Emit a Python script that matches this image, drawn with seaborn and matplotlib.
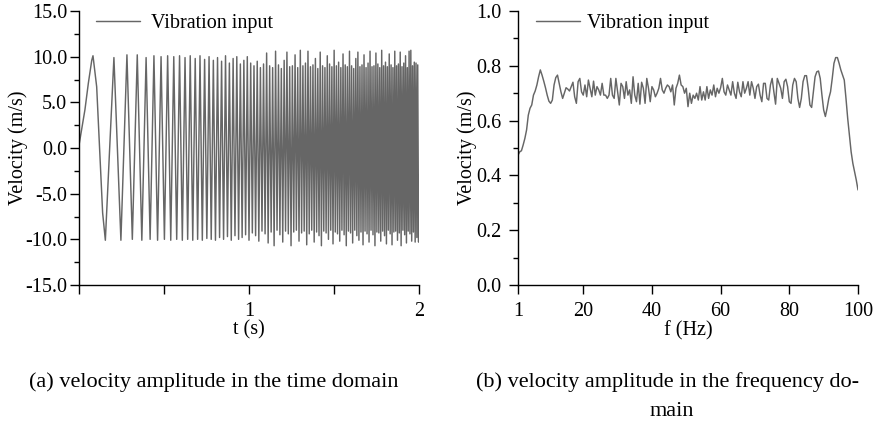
import numpy as np
import pandas as pd
import matplotlib
matplotlib.use("Agg")
import matplotlib.pyplot as plt
import seaborn as sns
from matplotlib.ticker import FixedLocator, MultipleLocator, FuncFormatter

# ---------------- data ----------------
# (a) time domain: onset shape of the first cycle, then the extrema of the sweep
onset_t = [0.0, 0.035, 0.055, 0.075, 0.104, 0.124, 0.139]
onset_v = [0.3, 4.2, 7.1, 9.6, 6.7, -1.3, -7.1]

peak_t = [0.0823, 0.2054, 0.2820, 0.3427, 0.3947, 0.4408, 0.4827, 0.5214, 0.5575, 0.5915,
          0.6237, 0.6543, 0.6836, 0.7118, 0.7389, 0.7650, 0.7903, 0.8149, 0.8387, 0.8619,
          0.8846, 0.9066, 0.9282, 0.9492, 0.9698, 0.9900, 1.0099, 1.0293, 1.0484, 1.0671,
          1.0855, 1.1037, 1.1215, 1.1390, 1.1563, 1.1734, 1.1902, 1.2068, 1.2231, 1.2393,
          1.2552, 1.2710, 1.2865, 1.3019, 1.3171, 1.3321, 1.3469, 1.3616, 1.3762, 1.3906,
          1.4048, 1.4189, 1.4329, 1.4467, 1.4605, 1.4740, 1.4875, 1.5008, 1.5141, 1.5272,
          1.5402, 1.5531, 1.5659, 1.5785, 1.5911, 1.6036, 1.6160, 1.6283, 1.6405, 1.6526,
          1.6647, 1.6766, 1.6885, 1.7003, 1.7120, 1.7236, 1.7351, 1.7466, 1.7580, 1.7693,
          1.7806, 1.7918, 1.8029, 1.8139, 1.8249, 1.8358, 1.8467, 1.8575, 1.8682, 1.8789,
          1.8895, 1.9000, 1.9105, 1.9209, 1.9313, 1.9417, 1.9519, 1.9621, 1.9723, 1.9824,
          1.9925]
peak_v = [10.1, 9.9, 10.2, 10.2, 9.9, 10.1, 10.0, 10.1, 10.0, 10.1,
          9.9, 10.1, 9.8, 10.1, 9.7, 10.0, 9.6, 9.9, 9.5, 10.1,
          9.3, 9.8, 10.0, 9.2, 9.6, 10.0, 9.3, 9.0, 9.5, 8.8,
          9.2, 10.4, 9.0, 8.8, 10.6, 9.1, 8.7, 9.6, 10.5, 8.9,
          9.0, 10.2, 8.8, 10.7, 9.0, 9.3, 10.6, 8.9, 9.1, 9.8,
          8.7, 10.5, 9.0, 8.8, 10.1, 9.2, 8.9, 10.7, 9.0, 9.4,
          8.8, 10.3, 9.1, 8.9, 10.6, 9.0, 8.7, 9.8, 10.5, 8.9,
          9.1, 10.2, 8.8, 9.3, 10.6, 8.9, 9.0, 10.4, 9.2, 8.8,
          10.7, 9.0, 9.4, 8.9, 10.3, 9.1, 8.8, 10.6, 9.0, 9.2,
          10.5, 8.9, 9.3, 10.1, 8.8, 10.6, 10.7, 9.0, 9.4, 9.3,
          9.1]
trough_t = [0.1550, 0.2465, 0.3137, 0.3696, 0.4184, 0.4622, 0.5024, 0.5397, 0.5747, 0.6078,
            0.6392, 0.6691, 0.6978, 0.7254, 0.7520, 0.7778, 0.8027, 0.8269, 0.8504, 0.8733,
            0.8957, 0.9175, 0.9388, 0.9596, 0.9800, 1.0000, 1.0196, 1.0388, 1.0578, 1.0764,
            1.0946, 1.1126, 1.1303, 1.1477, 1.1649, 1.1818, 1.1985, 1.2150, 1.2312, 1.2473,
            1.2631, 1.2787, 1.2942, 1.3095, 1.3246, 1.3395, 1.3543, 1.3689, 1.3834, 1.3977,
            1.4119, 1.4259, 1.4398, 1.4536, 1.4673, 1.4808, 1.4942, 1.5075, 1.5206, 1.5337,
            1.5466, 1.5595, 1.5722, 1.5848, 1.5974, 1.6098, 1.6222, 1.6344, 1.6466, 1.6587,
            1.6707, 1.6826, 1.6944, 1.7061, 1.7178, 1.7294, 1.7409, 1.7523, 1.7637, 1.7750,
            1.7862, 1.7973, 1.8084, 1.8194, 1.8304, 1.8413, 1.8521, 1.8628, 1.8735, 1.8842,
            1.8948, 1.9053, 1.9157, 1.9261, 1.9365, 1.9468, 1.9570, 1.9672, 1.9774, 1.9875,
            1.9975]
trough_v = [-10.1, -10.1, -10.0, -10.1, -10.0, -10.1, -10.0, -10.1, -10.0, -10.1,
            -10.0, -10.1, -10.0, -10.1, -9.9, -10.0, -10.1, -9.8, -10.0, -9.7,
            -10.1, -9.6, -10.0, -9.8, -9.5, -10.1, -9.3, -9.6, -10.2, -9.1,
            -9.4, -10.4, -9.2, -10.7, -9.0, -9.5, -10.3, -9.1, -9.4, -10.7,
            -9.2, -9.0, -10.2, -9.3, -9.1, -10.6, -9.4, -9.0, -10.3, -9.2,
            -9.6, -10.7, -9.1, -9.3, -10.0, -9.0, -10.5, -9.2, -9.4, -10.2,
            -9.0, -9.5, -10.7, -9.1, -9.3, -10.4, -9.0, -9.6, -10.1, -9.2,
            -10.6, -9.1, -9.4, -10.3, -9.0, -9.5, -10.7, -9.2, -9.3, -10.2,
            -9.1, -9.6, -10.5, -9.0, -9.4, -10.6, -9.2, -9.1, -10.1, -9.3,
            -10.7, -9.0, -9.5, -10.4, -9.1, -9.4, -10.2, -9.2, -10.3, -9.8,
            -10.3]
end_t = [2.0]
end_v = [-3.0]

# (b) frequency domain, one value every 0.5 Hz from 1 Hz to 100 Hz
spec_f_start, spec_f_stop, spec_f_step = 1.0, 100.0, 0.5
spec_v = [0.474, 0.486, 0.490, 0.511, 0.535, 0.566, 0.620, 0.645, 0.657, 0.693,
          0.708, 0.730, 0.760, 0.785, 0.766, 0.744, 0.720, 0.693, 0.671, 0.663,
          0.675, 0.730, 0.757, 0.766, 0.736, 0.705, 0.681, 0.700, 0.720, 0.715,
          0.708, 0.724, 0.740, 0.687, 0.663, 0.742, 0.754, 0.705, 0.693, 0.730,
          0.687, 0.748, 0.718, 0.687, 0.744, 0.693, 0.724, 0.712, 0.693, 0.736,
          0.693, 0.693, 0.681, 0.693, 0.754, 0.693, 0.681, 0.754, 0.705, 0.657,
          0.736, 0.724, 0.681, 0.742, 0.693, 0.712, 0.663,
          0.760, 0.693, 0.669, 0.736, 0.660, 0.740, 0.718, 0.663, 0.754, 0.718,
          0.669, 0.724, 0.712, 0.687, 0.700, 0.718, 0.754, 0.712, 0.700, 0.718,
          0.730, 0.724, 0.705, 0.730, 0.657, 0.718, 0.736, 0.766, 0.730, 0.724,
          0.700, 0.718, 0.651, 0.700, 0.663, 0.693, 0.681, 0.700, 0.675, 0.724,
          0.675, 0.705, 0.675, 0.724, 0.681, 0.712, 0.693, 0.730, 0.687, 0.718,
          0.700, 0.720, 0.754, 0.705, 0.693, 0.730, 0.712, 0.693, 0.742, 0.700,
          0.681, 0.740, 0.705, 0.687, 0.742, 0.700,
          0.718, 0.742, 0.693, 0.742, 0.718, 0.681, 0.724, 0.733, 0.693, 0.669,
          0.736, 0.736, 0.681, 0.675, 0.730, 0.754, 0.705, 0.660, 0.754, 0.736,
          0.718, 0.681, 0.742, 0.751, 0.724, 0.669, 0.663, 0.730, 0.754, 0.742,
          0.681, 0.648, 0.681, 0.742, 0.764, 0.764, 0.718, 0.657, 0.648, 0.705,
          0.760, 0.778, 0.781, 0.754, 0.693, 0.639, 0.615, 0.645, 0.681, 0.705,
          0.754, 0.809, 0.830, 0.830, 0.809, 0.785, 0.766, 0.748, 0.681, 0.608,
          0.547, 0.486, 0.444, 0.414, 0.383, 0.347]

legend_label = "Vibration input"
t_ticks = [0, 0.5, 1, 1.5, 2]
t_ticklabels = ["", "", "1", "", "2"]
f_ticks = [1, 20, 40, 60, 80, 100]
caption_a = "(a) velocity amplitude in the time domain"
caption_b1 = "(b) velocity amplitude in the frequency do-"
caption_b2 = "main"

# ---------------- build tables ----------------
time_df = pd.DataFrame({
    "t": onset_t + peak_t + trough_t + end_t,
    "v": onset_v + peak_v + trough_v + end_v,
}).sort_values("t").reset_index(drop=True)

spec_f = np.arange(spec_f_start, spec_f_stop + spec_f_step / 2, spec_f_step)[:len(spec_v)]
spec_df = pd.DataFrame({"f": spec_f, "v": spec_v[:len(spec_f)]})

# ---------------- style ----------------
sns.set_theme(style="ticks")
plt.rcParams["font.family"] = ["Liberation Serif", "DejaVu Serif"]
plt.rcParams["text.color"] = "black"
plt.rcParams["axes.labelcolor"] = "black"
plt.rcParams["xtick.color"] = "black"
plt.rcParams["ytick.color"] = "black"
plt.rcParams["axes.edgecolor"] = "black"

LINE = "#666666"
TICK_FS = 14.5
LABEL_FS = 14.5
CAP_FS = 16
W, H = 877, 426
fig = plt.figure(figsize=(W / 100, H / 100), dpi=100)
ax1 = fig.add_axes([79 / W, 1 - 285 / H, 340 / W, 274 / H])
ax2 = fig.add_axes([518 / W, 1 - 285 / H, 340 / W, 274 / H])

sns.lineplot(data=time_df, x="t", y="v", ax=ax1, color=LINE, linewidth=1.05,
             estimator=None, sort=False, label=legend_label)
sns.lineplot(data=spec_df, x="f", y="v", ax=ax2, color=LINE, linewidth=1.05,
             estimator=None, sort=False, label=legend_label)

for ax in (ax1, ax2):
    for s in ("top", "right"):
        ax.spines[s].set_visible(False)
    for s in ("left", "bottom"):
        ax.spines[s].set_linewidth(1.0)
        ax.spines[s].set_color("black")
    ax.tick_params(which="major", direction="out", length=6.5, width=1.0,
                   labelsize=TICK_FS, color="black")
    ax.tick_params(which="minor", direction="out", length=3.5, width=1.0, color="black")

# left axes
ax1.set_xlim(0, 2)
ax1.set_ylim(-15, 15)
ax1.xaxis.set_major_locator(FixedLocator(t_ticks))
ax1.set_xticklabels(t_ticklabels)
ax1.yaxis.set_major_locator(MultipleLocator(5))
ax1.yaxis.set_minor_locator(MultipleLocator(2.5))
ax1.yaxis.set_major_formatter(FuncFormatter(lambda v, p: f"{v:.1f}"))
ax1.tick_params(axis="y", which="major", pad=2)
ax1.tick_params(axis="x", which="major", pad=5.5)
ax1.set_xlabel("t (s)", fontsize=LABEL_FS)
ax1.set_ylabel("Velocity (m/s)", fontsize=LABEL_FS)
ax1.xaxis.set_label_coords(0.5, -0.13)
ax1.yaxis.set_label_coords(-0.18, 0.5)
ax1.yaxis.label.set_va("center")

# right axes
ax2.set_xlim(1, 100)
ax2.set_ylim(0, 1)
ax2.xaxis.set_major_locator(FixedLocator(f_ticks))
ax2.yaxis.set_major_locator(MultipleLocator(0.2))
ax2.yaxis.set_minor_locator(MultipleLocator(0.1))
ax2.yaxis.set_major_formatter(FuncFormatter(lambda v, p: f"{v:.1f}"))
ax2.tick_params(axis="y", which="major", pad=5.5)
ax2.tick_params(axis="x", which="major", pad=5.5)
ax2.set_xlabel("f (Hz)", fontsize=LABEL_FS)
ax2.set_ylabel("Velocity (m/s)", fontsize=LABEL_FS)
ax2.xaxis.set_label_coords(0.5, -0.13)
ax2.yaxis.set_label_coords(-0.15, 0.5)
ax2.yaxis.label.set_va("center")

# legends
for ax, x0, pad in ((ax1, 0.05, 0.55), (ax2, 0.053, 0.35)):
    ax.legend(loc="center left", bbox_to_anchor=(x0, 0.956), frameon=False,
              fontsize=LABEL_FS, handlelength=2.2, handletextpad=pad,
              borderpad=0, borderaxespad=0)

# captions
fig.text(214 / W, 1 - 382 / H, caption_a, ha="center", va="center", fontsize=CAP_FS)
fig.text(667 / W, 1 - 382 / H, caption_b1, ha="center", va="center", fontsize=CAP_FS)
fig.text(672 / W, 1 - 412 / H, caption_b2, ha="center", va="center", fontsize=CAP_FS)

fig.savefig("out.png", dpi=100)
